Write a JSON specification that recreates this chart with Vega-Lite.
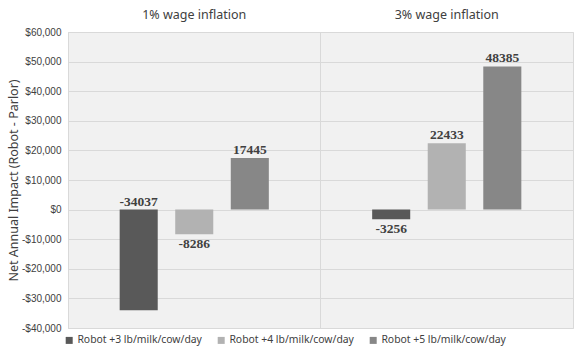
{
  "$schema": "https://vega.github.io/schema/vega-lite/v6.json",
  "width": 505,
  "height": 296,
  "autosize": "none",
  "padding": {"left": 68, "top": 32, "right": 10, "bottom": 25},
  "background": "white",
  "config": {
    "view": {"stroke": "#d9d9d9", "strokeWidth": 1, "fill": "#f1f1f1"},
    "font": "Noto Sans"
  },
  "data": {
    "values": [
      {"group": "1% wage inflation", "series": "Robot +3 lb/milk/cow/day", "value": -34037},
      {"group": "1% wage inflation", "series": "Robot +4 lb/milk/cow/day", "value": -8286},
      {"group": "1% wage inflation", "series": "Robot +5 lb/milk/cow/day", "value": 17445},
      {"group": "3% wage inflation", "series": "Robot +3 lb/milk/cow/day", "value": -3256},
      {"group": "3% wage inflation", "series": "Robot +4 lb/milk/cow/day", "value": 22433},
      {"group": "3% wage inflation", "series": "Robot +5 lb/milk/cow/day", "value": 48385}
    ]
  },
  "encoding": {
    "x": {
      "field": "group",
      "type": "nominal",
      "scale": {"paddingInner": 0, "paddingOuter": 0},
      "axis": {
        "orient": "top",
        "title": null,
        "labelAngle": 0,
        "ticks": false,
        "domain": false,
        "grid": true,
        "bandPosition": 0,
        "gridColor": "#d9d9d9",
        "labelFont": "Noto Sans",
        "labelFontSize": 12.5,
        "labelColor": "#404040",
        "labelPadding": 11
      }
    },
    "xOffset": {
      "field": "series",
      "type": "nominal",
      "scale": {"paddingInner": 0.315, "paddingOuter": 0.93}
    },
    "y": {
      "field": "value",
      "type": "quantitative",
      "scale": {"domain": [-40000, 60000], "nice": false},
      "axis": {
        "values": [-40000, -30000, -20000, -10000, 0, 10000, 20000, 30000, 40000, 50000, 60000],
        "labelExpr": "datum.value < 0 ? '-$' + format(-datum.value, ',') : '$' + format(datum.value, ',')",
        "title": "Net Annual Impact (Robot - Parlor)",
        "titleFont": "Noto Sans",
        "titleFontSize": 12.5,
        "titleFontWeight": "normal",
        "titleColor": "#404040",
        "titlePadding": 1,
        "labelFont": "Liberation Sans",
        "labelFontSize": 10,
        "labelColor": "#404040",
        "labelPadding": 7,
        "ticks": false,
        "domain": false,
        "grid": true,
        "gridColor": "#d9d9d9"
      }
    }
  },
  "layer": [
    {
      "mark": {"type": "bar"},
      "encoding": {
        "color": {
          "field": "series",
          "type": "nominal",
          "scale": {"range": ["#595959", "#b2b2b2", "#878787"]},
          "legend": {
            "orient": "none",
            "legendX": -4,
            "legendY": 303,
            "direction": "horizontal",
            "title": null,
            "symbolType": "square",
            "symbolSize": 49,
            "symbolStrokeWidth": 0,
            "labelFont": "Noto Sans",
            "labelFontSize": 10.4,
            "labelColor": "#404040",
            "labelOffset": 3,
            "columnPadding": 14,
            "labelLimit": 300
          }
        }
      }
    },
    {
      "transform": [{"filter": "datum.value > 0"}],
      "mark": {"type": "text", "baseline": "bottom", "dy": -1, "font": "Liberation Serif", "fontSize": 13.5, "fontWeight": "bold", "color": "#404040", "text": {"expr": "'' + datum.value"}}
    },
    {
      "transform": [{"filter": "datum.value < 0 && datum.value > -20000"}],
      "mark": {"type": "text", "baseline": "top", "dy": 3, "font": "Liberation Serif", "fontSize": 13.5, "fontWeight": "bold", "color": "#404040", "text": {"expr": "'' + datum.value"}}
    },
    {
      "transform": [{"filter": "datum.value <= -20000"}],
      "mark": {"type": "text", "baseline": "bottom", "dy": -1, "font": "Liberation Serif", "fontSize": 13.5, "fontWeight": "bold", "color": "#404040", "text": {"expr": "'' + datum.value"}},
      "encoding": {
        "y": {"datum": 0}
      }
    }
  ]
}
